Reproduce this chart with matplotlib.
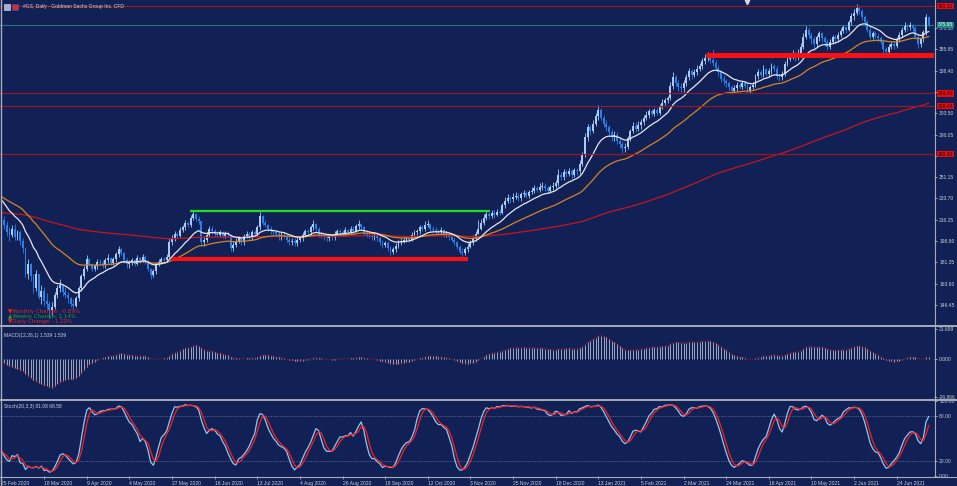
import numpy as np
import pandas as pd
import matplotlib
matplotlib.use('Agg')
import matplotlib.pyplot as plt
import matplotlib.transforms as mtransforms
from matplotlib.lines import Line2D
from matplotlib.patches import Rectangle

# daily bars of #GS (open = previous close)
closes = [
    216, 212, 206, 204, 209, 202, 206, 199, 193, 172, 180, 170, 160, 172, 153, 158,
    150, 147, 142, 145, 155, 160, 163, 157, 155, 152, 147, 146, 152, 160, 170, 176,
    184, 180, 176, 178, 182, 181, 179, 183, 185, 181, 184, 188, 192, 189, 183, 180,
    181, 183, 180, 185, 183, 186, 182, 176, 171, 174, 180, 182, 184, 183, 186, 198,
    201, 205, 203, 208, 210, 214, 212, 218, 221, 217, 215, 198, 200, 204, 209, 207,
    205, 204, 206, 203, 205, 204, 193, 196, 199, 201, 198, 203, 205, 202, 206, 205,
    210, 219, 214, 212, 209, 207, 206, 205, 202, 204, 203, 200, 198, 199, 197, 200,
    201, 204, 207, 206, 210, 213, 209, 204, 203, 202, 201, 203, 202, 205, 207, 206,
    205, 208, 206, 209, 207, 211, 213, 210, 205, 204, 203, 202, 204, 201, 198, 196,
    197, 193, 190, 192, 195, 198, 199, 200, 201, 200, 204, 206, 207, 210, 209, 212,
    213, 209, 208, 207, 206, 208, 204, 205, 202, 200, 198, 194, 190, 189, 192, 194,
    198, 201, 205, 209, 214, 218, 221, 219, 222, 220, 223, 222, 228, 232, 234, 233,
    235, 236, 234, 237, 238, 236, 239, 240, 242, 241, 243, 244, 242, 240, 243, 244,
    246, 253, 251, 255, 254, 256, 253, 257, 256, 262, 270, 284, 292, 289, 295, 301,
    306, 300, 295, 292, 288, 284, 286, 281, 278, 275, 276, 283, 289, 293, 291, 294,
    296, 300, 302, 305, 303, 306, 304, 309, 312, 314, 316, 326, 333, 328, 325, 324,
    328, 333, 338, 335, 337, 340, 342, 346, 349, 350, 347, 345, 341, 337, 332, 330,
    328, 325, 322, 324, 327, 325, 328, 326, 322, 325, 327, 334, 337, 335, 340, 336,
    338, 342, 340, 334, 333, 336, 344, 348, 350, 352, 349, 353, 358, 366, 372, 368,
    364, 360, 366, 369, 365, 362, 358, 362, 366, 364, 368, 371, 374, 372, 378, 383,
    386, 390, 387, 382, 378, 372, 366, 369, 367, 365, 362, 356, 354, 358, 360, 359,
    364, 368, 372, 375, 374, 376, 373, 366, 360, 364, 370, 382, 376,
]
highs = [
    222, 219, 215, 210, 212, 213, 208, 208, 201, 186, 184, 181, 172, 175, 172, 163,
    161, 156, 150, 149, 157, 163, 168, 164, 161, 157, 153, 151, 154, 162, 172, 178,
    187, 185, 181, 180, 184, 184, 183, 185, 188, 186, 186, 190, 195, 193, 190, 185,
    183, 185, 184, 187, 186, 188, 187, 183, 177, 176, 182, 184, 186, 186, 188, 201,
    204, 207, 206, 210, 212, 216, 215, 220, 224, 222, 219, 214, 203, 206, 211, 211,
    209, 207, 208, 207, 207, 207, 205, 198, 201, 203, 202, 205, 207, 206, 208, 208,
    212, 223, 220, 216, 213, 211, 209, 208, 207, 206, 206, 205, 202, 201, 201, 202,
    203, 206, 209, 209, 212, 216, 214, 210, 206, 205, 204, 205, 205, 207, 209, 209,
    208, 210, 209, 211, 211, 213, 216, 214, 211, 207, 206, 205, 206, 206, 203, 200,
    199, 199, 195, 194, 197, 200, 201, 202, 203, 203, 206, 208, 209, 212, 212, 215,
    216, 214, 211, 210, 209, 210, 209, 207, 206, 204, 202, 199, 196, 193, 194, 197,
    200, 204, 207, 216, 217, 221, 224, 223, 224, 224, 225, 225, 230, 235, 237, 236,
    238, 239, 238, 239, 241, 240, 241, 243, 245, 244, 246, 247, 246, 244, 245, 247,
    249, 258, 255, 258, 257, 259, 258, 259, 259, 265, 272, 287, 295, 294, 298, 304,
    310, 308, 302, 298, 294, 291, 289, 288, 284, 281, 279, 285, 291, 296, 296, 297,
    299, 302, 305, 307, 307, 308, 308, 311, 315, 316, 318, 329, 337, 335, 331, 328,
    331, 336, 341, 340, 340, 343, 345, 349, 352, 354, 352, 356, 347, 343, 339, 335,
    332, 330, 327, 327, 329, 329, 330, 330, 328, 327, 329, 336, 340, 339, 343, 341,
    341, 345, 344, 342, 336, 338, 346, 350, 352, 355, 354, 356, 361, 369, 375, 374,
    370, 367, 368, 371, 370, 367, 364, 364, 368, 368, 370, 373, 376, 375, 380, 386,
    389, 393, 391, 389, 384, 380, 374, 371, 371, 369, 367, 364, 358, 360, 362, 362,
    366, 370, 374, 378, 377, 378, 377, 375, 368, 366, 372, 385, 383,
]
lows = [
    213, 209, 203, 199, 202, 200, 200, 196, 189, 169, 168, 166, 156, 158, 151, 147,
    146, 143, 137, 138, 143, 152, 157, 154, 152, 148, 145, 143, 145, 150, 158, 168,
    174, 178, 174, 174, 176, 179, 177, 177, 181, 179, 179, 182, 186, 187, 181, 177,
    177, 179, 178, 179, 181, 182, 180, 174, 168, 169, 172, 178, 180, 181, 182, 185,
    196, 199, 201, 202, 206, 208, 210, 210, 216, 215, 213, 196, 195, 198, 202, 205,
    203, 202, 202, 201, 201, 202, 191, 191, 194, 197, 196, 196, 201, 200, 200, 203,
    203, 208, 212, 210, 207, 205, 204, 203, 200, 200, 201, 198, 196, 196, 195, 195,
    198, 199, 202, 204, 204, 208, 207, 202, 201, 200, 199, 199, 200, 200, 203, 204,
    203, 203, 204, 205, 205, 206, 209, 208, 203, 202, 201, 200, 200, 199, 196, 193,
    194, 191, 187, 188, 190, 193, 196, 197, 198, 198, 199, 202, 204, 205, 207, 207,
    210, 207, 206, 205, 204, 204, 202, 202, 200, 198, 196, 192, 188, 186, 187, 190,
    193, 196, 199, 205, 208, 212, 216, 217, 218, 218, 219, 220, 221, 226, 230, 230,
    231, 233, 232, 232, 235, 234, 234, 237, 238, 239, 239, 241, 240, 238, 238, 241,
    242, 244, 249, 249, 251, 252, 250, 251, 253, 254, 260, 268, 281, 286, 287, 293,
    298, 298, 292, 289, 285, 281, 281, 278, 275, 271, 272, 274, 281, 287, 288, 289,
    291, 294, 298, 300, 301, 301, 302, 302, 307, 310, 312, 314, 323, 326, 322, 320,
    321, 326, 331, 332, 333, 335, 338, 340, 344, 346, 345, 342, 338, 334, 329, 327,
    325, 322, 319, 320, 322, 323, 323, 324, 320, 320, 323, 325, 332, 333, 333, 334,
    333, 336, 338, 332, 330, 331, 334, 342, 346, 348, 346, 347, 351, 356, 364, 365,
    360, 357, 358, 363, 362, 359, 355, 356, 360, 361, 362, 366, 369, 369, 371, 376,
    380, 384, 385, 380, 375, 370, 364, 364, 365, 362, 360, 353, 350, 352, 356, 356,
    357, 362, 366, 370, 371, 372, 371, 364, 357, 358, 362, 368, 374,
]
first_open = 220

# starting values of the averages at the left edge (prices before the window)
seed_fast = 235
seed_slow = 236
seed_long = 222
seed_macd = 230

date_labels = ['25 Feb 2020', '18 Mar 2020', '9 Apr 2020', '4 May 2020', '27 May 2020',
               '18 Jun 2020', '13 Jul 2020', '4 Aug 2020', '26 Aug 2020', '18 Sep 2020',
               '12 Oct 2020', '3 Nov 2020', '25 Nov 2020', '18 Dec 2020', '13 Jan 2021',
               '5 Feb 2021', '2 Mar 2021', '24 Mar 2021', '16 Apr 2021', '10 May 2021',
               '2 Jun 2021', '24 Jun 2021']
price_ticks = [146.45, 163.90, 181.35, 198.80, 216.25, 233.70, 251.15, 268.60,
               286.05, 303.50, 320.95, 338.40, 355.85, 373.30]
# these scale labels sit under the red level boxes
hidden_ticks = [268.60, 320.95]
red_levels = [391.21, 319.80, 309.44, 269.92]
last_price = 375.95
macd_ticks = [21.699, 0.0, -26.866]
stoch_ticks = [100.0, 80.0, 20.0, 0.0]
info_lines = [('\u25bcMonthly Change: -0.89%', '#e0262a'),
              ('\u25b2Weekly Change: 1.14%', '#22a032'),
              ('\u25bcDaily Change: -1.20%', '#e0262a')]

BG = '#112156'
GRID = '#a8acb8'
TXT = '#c8ccd4'
W, H = 957, 486

c = np.array(closes, dtype=float)
hi = np.array(highs, dtype=float)
lo = np.array(lows, dtype=float)
o = np.concatenate([[first_open], c[:-1]])
x = np.arange(len(c))


def ema(vals, span, seed):
    k = 2.0 / (span + 1)
    out = []
    prev = seed
    for v in vals:
        prev = prev + k * (v - prev)
        out.append(prev)
    return np.array(out)


fast = ema(c, 14, seed_fast)
slow = ema(c, 40, seed_slow)
long_ma = ema(c, 200, seed_long)
macd = ema(c, 12, seed_macd) - ema(c, 26, seed_macd)

cs, hs, ls = pd.Series(c), pd.Series(hi), pd.Series(lo)
ll = ls.rolling(20, min_periods=1).min()
hh = hs.rolling(20, min_periods=1).max()
stk = 100 * (cs - ll).rolling(3, min_periods=1).sum() / (hh - ll).rolling(3, min_periods=1).sum()
std = stk.rolling(3, min_periods=1).mean()

plt.rcParams['font.family'] = 'Liberation Sans'
fig = plt.figure(figsize=(W / 100, H / 100), dpi=100, facecolor=BG)


def frac(px_top, px_bot, px_left=0, px_right=934):
    return [px_left / W, 1 - px_bot / H, (px_right - px_left) / W, (px_bot - px_top) / H]


ax = fig.add_axes(frac(1, 325))
axm = fig.add_axes(frac(329, 397))
axs = fig.add_axes(frac(401.3, 476.3))
xl = (-0.56, 350.0)
for a in (ax, axm, axs):
    a.set_facecolor(BG)
    a.set_xlim(*xl)
    for s in a.spines.values():
        s.set_visible(False)
    a.yaxis.tick_right()
    a.tick_params(axis='y', direction='out', length=2.5, width=0.6, color=GRID,
                  labelsize=3.6, labelcolor=TXT, pad=1.2)
    a.tick_params(axis='x', bottom=False, labelbottom=False)

# ---- main price window
ax.set_ylim(130.06, 395.5)
ax.set_yticks(price_ticks)
ax.set_yticklabels(['' if v in hidden_ticks else '%.2f' % v for v in price_ticks])

up = c >= o
col = np.where(up, '#a9cbf2', '#2a80e6')
ax.vlines(x, lo, hi, colors=col, lw=0.6, zorder=2)
body = np.maximum(np.abs(c - o), 0.5)
ax.bar(x, body, bottom=np.minimum(o, c), width=0.72, color=col, lw=0, zorder=2.1)

ax.plot(x, long_ma, color='#c8141c', lw=0.9, zorder=3)
ax.plot(x, slow, color='#d88420', lw=0.9, zorder=3)
ax.plot(x, fast, color='#e6e6ee', lw=0.9, zorder=3)

for lv in red_levels:
    ax.axhline(lv, color='#a3141c', lw=0.8, zorder=4)
ax.axhline(last_price, color='#2f6f78', lw=0.8, zorder=1.5)

# drawn support / resistance zones
ax.plot([64, 175], [184.2, 184.2], color='#ff1010', lw=3.0, solid_capstyle='butt', zorder=4)
ax.plot([70.8, 183.4], [223.5, 223.5], color='#1ee01e', lw=1.6, solid_capstyle='butt', zorder=4)
ax.plot([264.5, xl[1]], [351.0, 351.0], color='#ff1010', lw=3.6, solid_capstyle='butt', zorder=4)

blend = mtransforms.blended_transform_factory(ax.transAxes, ax.transData)
for lv in red_levels:
    ax.text(1.004, lv, '%.2f' % lv, transform=blend, fontsize=3.6, color='#300000',
            va='center', ha='left', clip_on=False, zorder=6,
            bbox=dict(fc='#e40c0c', ec='none', pad=0.5))
ax.text(1.004, last_price, '%.2f' % last_price, transform=blend, fontsize=3.6,
        color='#e8f4f4', va='center', ha='left', clip_on=False, zorder=6,
        bbox=dict(fc='#1f8a86', ec='none', pad=0.5))

for i, (t, cl) in enumerate(info_lines):
    fig.text(8 / W, 1 - (311.5 + 5.2 * i) / H, t, color=cl, fontsize=4.0,
             va='center', ha='left', family=['DejaVu Sans'])

fig.text(23 / W, 1 - 6.5 / H, '#GS, Daily - Goldman Sachs Group Inc. CFD', color='#d0d4dc',
         fontsize=3.6, va='center', ha='left')
fig.patches.append(Rectangle((4 / W, 1 - 10 / H), 6 / W, 6 / H, transform=fig.transFigure,
                             fc='#9ab0e0', ec='#e0e0e0', lw=0.4))
fig.patches.append(Rectangle((12 / W, 1 - 10 / H), 6 / W, 6 / H, transform=fig.transFigure,
                             fc='#d03030', ec='#3050c0', lw=0.4))
fig.add_artist(Line2D([746.5 / W], [1 - 2.5 / H], marker='v', markersize=3.2,
                      color='#d8d8e0', transform=fig.transFigure))

# ---- MACD window
axm.set_ylim(-26.866, 21.699)
axm.set_yticks(macd_ticks)
axm.set_yticklabels(['%.3f' % v for v in macd_ticks])
axm.vlines(x, 0, macd, colors='#c4c8d4', lw=0.55, zorder=2)
axm.plot(x, macd, color='#d01818', lw=0.6, ls=(0, (1, 1.2)), zorder=3)
axm.text(0.004, 0.94, 'MACD(12,26,1) 1.539 1.539', transform=axm.transAxes, color=TXT,
         fontsize=3.6, va='top', ha='left')

# ---- Stochastic window
axs.set_ylim(0, 100)
axs.set_yticks(stoch_ticks)
axs.set_yticklabels(['%.2f' % v for v in stoch_ticks])
for lv in (80, 20):
    axs.axhline(lv, color='#7f8aa8', lw=0.5, ls=(0, (1, 1.5)), zorder=1)
axs.plot(x, stk, color='#8ec8f0', lw=0.9, zorder=3)
axs.plot(x, std, color='#ff1c1c', lw=0.9, zorder=3.1)
axs.text(0.004, 0.97, 'Stoch(20,3,3) 81.08 68.58', transform=axs.transAxes, color=TXT,
         fontsize=3.6, va='top', ha='left')

axs.set_xticks(np.arange(len(date_labels)) * 16)
axs.set_xticklabels(date_labels)
axs.tick_params(axis='x', bottom=True, labelbottom=True, direction='out', length=2.5,
                width=0.6, color=GRID, labelsize=3.6, labelcolor=TXT, pad=0.8)
for lab in axs.get_xticklabels():
    lab.set_ha('left')

# window frames
for yy, lw in ((325.5, 1.4), (399.5, 1.4), (476.8, 0.8)):
    fig.add_artist(Line2D([0, 1], [1 - yy / H] * 2, color=GRID, lw=lw))
fig.add_artist(Line2D([934.5 / W] * 2, [1 - 477 / H, 1], color=GRID, lw=0.8))
fig.add_artist(Line2D([0.5 / W] * 2, [0, 1], color=GRID, lw=1.0))

fig.savefig('out.png', dpi=100, facecolor=BG)
